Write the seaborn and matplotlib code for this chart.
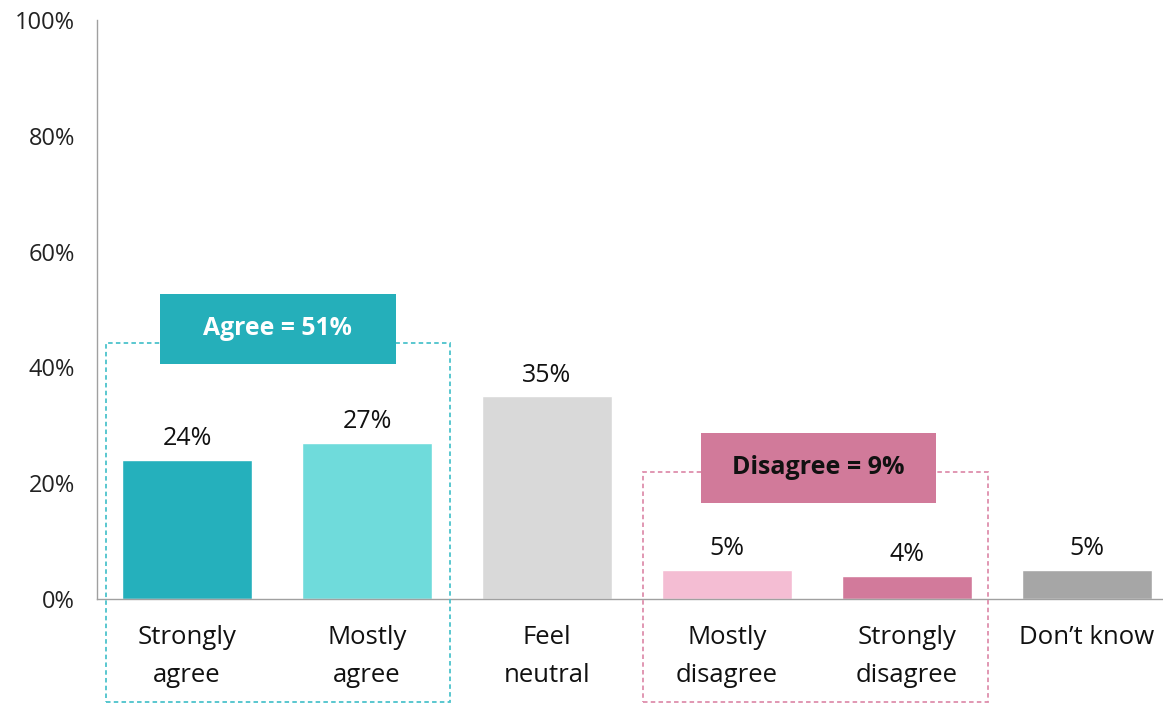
import numpy as np
import pandas as pd
import seaborn as sns
import matplotlib.pyplot as plt
from matplotlib.patches import Rectangle

# survey responses, share of respondents
categories = ['Strongly\nagree', 'Mostly\nagree', 'Feel\nneutral',
              'Mostly\ndisagree', 'Strongly\ndisagree', 'Don\u2019t know']
values = [24, 27, 35, 5, 4, 5]
colors = ['#25B0BC', '#6FDBDB', '#D9D9D9', '#F4BDD3', '#D27A9B', '#A6A6A6']
y_ticks = [0, 20, 40, 60, 80, 100]
agree_label = 'Agree = 51%'
disagree_label = 'Disagree = 9%'

sns.set_style('white')
plt.rcParams['font.family'] = ['Open Sans', 'DejaVu Sans']

df = pd.DataFrame({'cat': categories, 'val': values})

fig = plt.figure(figsize=(11.63, 7.03), dpi=100)
# axes extend slightly past the right edge, like the original
ax = fig.add_axes([97 / 1163, 104 / 703, 1080 / 1163, 579 / 703])

sns.barplot(data=df, x='cat', y='val', hue='cat', palette=colors,
            legend=False, width=0.72, saturation=1, ax=ax)

ax.set_xlim(-0.5, 5.5)
ax.set_ylim(0, 100)
ax.set_yticks(y_ticks)
ax.set_yticklabels([f'{t}%' for t in y_ticks], fontsize=17, color='#222222')
ax.set_xlabel('')
ax.set_ylabel('')

# category ticks sit at the boundaries between bars
ax.set_xticks(np.arange(len(categories)))
ax.set_xticklabels(categories, fontsize=18.5, color='#111111', linespacing=1.65)
ax.tick_params(axis='x', length=0, pad=19)
ax.set_xticks(np.arange(len(categories)) - 0.5, minor=True)
ax.tick_params(axis='x', which='minor', length=8, color='#A0A0A0', width=1)
ax.tick_params(axis='y', length=8, color='#A0A0A0', width=1, pad=8)

for s in ['top', 'right']:
    ax.spines[s].set_visible(False)
for s in ['left', 'bottom']:
    ax.spines[s].set_color('#A0A0A0')
    ax.spines[s].set_linewidth(1)

for i, v in enumerate(values):
    ax.text(i, v + 1.5, f'{v}%', ha='center', va='bottom', fontsize=18, color='#111111')

# dashed group outlines
ax.add_patch(Rectangle((-0.45, -17.8), 1.91, 62.0, fill=False, ls=(0, (2.5, 1.8)),
                       lw=1.3, ec='#4CC3CC', clip_on=False, zorder=3))
ax.add_patch(Rectangle((2.533, -17.8), 1.917, 39.7, fill=False, ls=(0, (2.5, 1.8)),
                       lw=1.3, ec='#DE8FAD', clip_on=False, zorder=3))

# group summary boxes
ax.add_patch(Rectangle((-0.15, 40.6), 1.311, 12.1, fc='#25AFBA', ec='none',
                       clip_on=False, zorder=4))
ax.text(0.505, 46.65, agree_label, ha='center', va='center', fontsize=17.8,
        fontweight='bold', color='white', zorder=5)
ax.add_patch(Rectangle((2.856, 16.6), 1.305, 12.1, fc='#D17A9A', ec='none',
                       clip_on=False, zorder=4))
ax.text(3.5085, 22.65, disagree_label, ha='center', va='center', fontsize=18,
        fontweight='bold', color='#111111', zorder=5)

fig.savefig('out.png', dpi=100)
